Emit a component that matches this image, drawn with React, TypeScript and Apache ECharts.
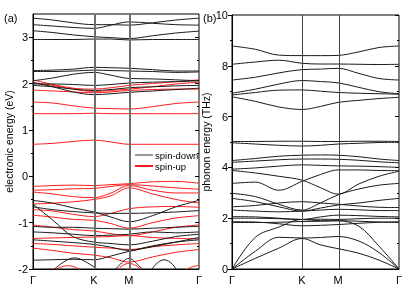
import React, { useEffect, useRef } from 'react';
import * as echarts from 'echarts';

// ---- k-path positions (fraction of path) ----
const KPATH_A = [0, 0.12, 0.24, 0.367, 0.47, 0.578, 0.72, 0.86, 1];
const KPATH_B = [0, 0.14, 0.28, 0.419, 0.53, 0.635, 0.76, 0.88, 1];
const KTICKS_A = [0, 0.367, 0.578, 1];
const KTICKS_B = [0, 0.419, 0.635, 1];
const KLABELS = ['Γ', 'K', 'M', 'Γ'];
const E_TICKS = [-2, -1, 0, 1, 2, 3];

// ---- (a) electronic bands, spin-down (black), values at KPATH_A ----
const spinDownBands: number[][] = [
  [3.41, 3.37, 3.31, 3.27, 3.27, 3.26, 3.31, 3.37, 3.41],
  [3.27, 3.24, 3.21, 3.19, 3.26, 3.33, 3.3, 3.27, 3.26],
  [3.14, 3.1, 3.05, 3.01, 2.99, 2.97, 3.03, 3.09, 3.13],
  [2.95, 2.95, 2.95, 2.96, 2.96, 2.94, 2.95, 2.95, 2.95],
  [2.28, 2.29, 2.31, 2.35, 2.34, 2.33, 2.3, 2.27, 2.27],
  [2.26, 2.26, 2.27, 2.29, 2.28, 2.27, 2.26, 2.24, 2.25],
  [2.06, 2.12, 2.2, 2.24, 2.18, 2.11, 2.1, 2.08, 2.06],
  [1.99, 1.99, 1.98, 1.96, 1.98, 2.01, 2.03, 2.04, 2.06],
  [1.96, 1.93, 1.88, 1.85, 1.87, 1.91, 1.93, 1.95, 1.96],
  [2.02, 1.93, 1.82, 1.76, 1.78, 1.81, 1.84, 1.87, 1.9],
  [-0.52, -0.58, -0.68, -0.77, -0.88, -0.98, -0.85, -0.66, -0.52],
  [-0.66, -0.72, -0.76, -0.79, -0.8, -0.8, -0.79, -0.77, -0.74],
  [-0.6, -0.95, -1.3, -1.42, -1.45, -1.48, -1.4, -1.3, -1.25],
  [-1.08, -1.1, -1.1, -1.12, -1.13, -1.14, -1.12, -1.1, -1.08],
  [-1.2, -1.22, -1.25, -1.28, -1.27, -1.25, -1.2, -1.22, -1.2],
  [-1.37, -1.4, -1.43, -1.47, -1.53, -1.6, -1.5, -1.42, -1.37],
  [-1.81, -1.8, -1.79, -1.8, -1.72, -1.62, -1.52, -1.42, -1.32],
];
// extra spin-down arcs near the bottom: [k, E] pairs
const spinDownArcs: number[][][] = [
  [[0.1, -2.1], [0.18, -1.86], [0.25, -1.76], [0.32, -1.85], [0.4, -2.05], [0.45, -2.25]],
  [[0.45, -2.2], [0.52, -1.92], [0.578, -1.77], [0.63, -1.9], [0.68, -2.1]],
  [[0.68, -2.2], [0.74, -1.9], [0.79, -1.8], [0.84, -1.9], [0.9, -2.2]],
];

// ---- (a) electronic bands, spin-up (red), values at KPATH_A ----
const spinUpBands: number[][] = [
  [2.08, 1.98, 1.9, 1.88, 1.91, 1.96, 2.0, 2.04, 2.08],
  [2.02, 1.96, 1.88, 1.83, 1.85, 1.88, 1.93, 1.99, 2.03],
  [1.86, 1.84, 1.82, 1.8, 1.82, 1.85, 1.87, 1.88, 1.88],
  [1.6, 1.58, 1.52, 1.47, 1.46, 1.45, 1.5, 1.57, 1.6],
  [1.35, 1.35, 1.35, 1.36, 1.35, 1.35, 1.35, 1.35, 1.35],
  [0.69, 0.71, 0.75, 0.78, 0.74, 0.69, 0.69, 0.69, 0.69],
  [-0.22, -0.2, -0.19, -0.2, -0.18, -0.16, -0.12, -0.11, -0.15],
  [-0.3, -0.29, -0.27, -0.26, -0.22, -0.18, -0.21, -0.25, -0.28],
  [-0.34, -0.38, -0.44, -0.46, -0.36, -0.2, -0.3, -0.36, -0.36],
  [-0.6, -0.58, -0.55, -0.5, -0.42, -0.25, -0.38, -0.5, -0.58],
  [-0.72, -0.75, -0.82, -0.87, -0.8, -0.7, -0.66, -0.65, -0.67],
  [-0.84, -0.88, -0.93, -0.95, -1.02, -1.12, -1.0, -0.9, -0.85],
  [-1.05, -1.1, -1.15, -1.18, -1.24, -1.28, -1.2, -1.1, -1.05],
  [-1.34, -1.33, -1.32, -1.31, -1.3, -1.28, -1.32, -1.34, -1.35],
  [-1.45, -1.47, -1.5, -1.53, -1.55, -1.58, -1.52, -1.48, -1.45],
  [-1.55, -1.6, -1.66, -1.7, -1.76, -1.85, -1.74, -1.64, -1.58],
];
const spinUpArcs: number[][][] = [
  [[0.1, -2.1], [0.16, -1.97], [0.21, -1.93], [0.26, -1.97], [0.31, -2.1]],
  [[0.47, -2.2], [0.53, -1.95], [0.578, -1.88], [0.63, -1.95], [0.7, -2.2]],
  [[0.5, -2.3], [0.578, -2.0], [0.66, -2.3]],
  [[0.86, -2.2], [0.94, -1.98], [1, -1.92]],
];

// ---- (b) phonon bands (THz), values at KPATH_B ----
const phononBands: number[][] = [
  [8.78, 8.65, 8.42, 8.4, 8.4, 8.41, 8.55, 8.72, 8.78],
  [8.06, 8.15, 8.22, 8.1, 8.07, 8.07, 8.06, 8.05, 8.06],
  [7.44, 7.55, 7.72, 7.85, 7.87, 7.9, 7.7, 7.5, 7.44],
  [6.92, 7.08, 7.28, 7.42, 7.38, 7.33, 7.15, 6.98, 6.9],
  [6.85, 6.95, 7.04, 7.05, 7.0, 6.95, 6.92, 6.9, 6.88],
  [6.78, 6.6, 6.38, 6.28, 6.4, 6.56, 6.64, 6.71, 6.76],
  [5.02, 5.02, 5.03, 5.03, 5.02, 5.02, 5.03, 5.03, 5.02],
  [4.97, 4.92, 4.87, 4.84, 4.87, 4.92, 4.95, 4.98, 4.99],
  [4.27, 4.35, 4.44, 4.48, 4.49, 4.48, 4.42, 4.33, 4.27],
  [4.2, 4.25, 4.3, 4.33, 4.33, 4.32, 4.28, 4.22, 4.18],
  [3.93, 3.98, 4.05, 4.1, 4.08, 4.06, 4.05, 4.03, 4.0],
  [3.88, 3.78, 3.65, 3.5, 3.2, 2.95, 3.35, 3.65, 3.85],
  [3.37, 3.42, 3.1, 3.45, 3.72, 3.9, 3.9, 3.88, 3.87],
  [2.98, 2.85, 2.55, 2.32, 2.6, 2.92, 3.15, 3.3, 3.37],
  [2.78, 2.65, 2.45, 2.28, 2.4, 2.52, 2.6, 2.7, 2.78],
  [2.45, 2.5, 2.6, 2.65, 2.6, 2.55, 2.48, 2.43, 2.42],
  [2.32, 2.28, 2.25, 2.28, 2.32, 2.35, 2.33, 2.3, 2.3],
  [2.06, 2.05, 2.0, 1.95, 2.05, 2.12, 2.1, 2.07, 2.05],
  [2.0, 2.0, 1.98, 1.95, 1.96, 1.95, 1.98, 2.0, 2.0],
  [1.86, 1.85, 1.78, 1.7, 1.72, 1.75, 1.8, 1.84, 1.86],
  [1.83, 1.83, 1.84, 1.87, 1.88, 1.9, 1.88, 1.85, 1.83],
  [0, 1.25, 1.65, 1.95, 1.9, 1.9, 1.68, 0.9, 0],
  [0, 0.7, 1.25, 1.22, 1.24, 1.28, 1.1, 0.65, 0],
  [0, 0.42, 0.82, 1.2, 0.95, 0.8, 0.62, 0.35, 0],
];

const FONT = '"Liberation Sans", Arial, sans-serif';

function pts(xs: number[], ys: number[]): number[][] {
  return xs.map((x, i) => [x, ys[i]]);
}

function bandSeries(name: string, data: number[][], color: string, g: number, width = 1): any {
  return {
    type: 'line',
    name,
    xAxisIndex: g,
    yAxisIndex: g * 2,
    data,
    symbol: 'none',
    showSymbol: false,
    smooth: 0.35,
    silent: true,
    lineStyle: { color, width },
    itemStyle: { color },
    emphasis: { disabled: true },
  };
}

function labelFor(ticks: number[]) {
  return (v: number) => {
    let best = 0;
    ticks.forEach((t, i) => {
      if (Math.abs(t - v) < Math.abs(ticks[best] - v)) best = i;
    });
    return KLABELS[best];
  };
}

export default function App() {
  const ref = useRef<HTMLDivElement>(null);
  useEffect(() => {
    if (!ref.current) return;
    const chart = echarts.init(ref.current, undefined, { renderer: 'svg' });
    const series: any[] = [];
    const vlineA = {
      type: 'line', xAxisIndex: 0, yAxisIndex: 0, data: [], silent: true,
      markLine: {
        symbol: ['none', 'none'], silent: true, label: { show: false },
        lineStyle: { color: '#6e6e6e', width: 2, type: 'solid' },
        data: [{ xAxis: KTICKS_A[1] }, { xAxis: KTICKS_A[2] }],
      },
    };
    const vlineB = {
      type: 'line', xAxisIndex: 1, yAxisIndex: 2, data: [], silent: true,
      markLine: {
        symbol: ['none', 'none'], silent: true, label: { show: false },
        lineStyle: { color: '#444', width: 1, type: 'solid' },
        data: [{ xAxis: KTICKS_B[1] }, { xAxis: KTICKS_B[2] }],
      },
    };
    series.push(vlineA, vlineB);
    spinUpBands.forEach((b) => series.push(bandSeries('spin-up', pts(KPATH_A, b), '#ff1a1a', 0)));
    spinUpArcs.forEach((a) => series.push(bandSeries('spin-up', a, '#ff1a1a', 0)));
    spinDownBands.forEach((b) => series.push(bandSeries('spin-down', pts(KPATH_A, b), '#1a1a1a', 0)));
    spinDownArcs.forEach((a) => series.push(bandSeries('spin-down', a, '#1a1a1a', 0)));
    phononBands.forEach((b) => series.push(bandSeries('phonon', pts(KPATH_B, b), '#1a1a1a', 1)));

    const xAxisCommon = (g: number, ticks: number[]) => ({
      type: 'value', gridIndex: g, min: 0, max: 1,
      axisLine: { show: true, onZero: false, lineStyle: { color: '#000', width: 1 } },
      axisTick: { show: false },
      splitLine: { show: false },
      axisLabel: {
        customValues: ticks, formatter: labelFor(ticks), color: '#000',
        fontSize: 11, fontFamily: FONT, margin: 5,
      },
    });

    chart.setOption({
      animation: false,
      textStyle: { fontFamily: FONT },
      grid: [
        { left: 33, top: 14, width: 166, height: 255, show: true, borderColor: '#000', borderWidth: 1 },
        { left: 232, top: 15, width: 167, height: 254, show: true, borderColor: '#000', borderWidth: 1 },
      ],
      xAxis: [xAxisCommon(0, KTICKS_A), xAxisCommon(1, KTICKS_B)],
      yAxis: [
        {
          type: 'value', gridIndex: 0, position: 'left', min: -2, max: 3.5, interval: 1,
          axisLine: { show: true, onZero: false, lineStyle: { color: '#000' } },
          axisTick: { show: true, inside: false, length: 4, customValues: E_TICKS, lineStyle: { color: '#000' } },
          minorTick: { show: true, splitNumber: 2, length: 2, lineStyle: { color: '#000' } },
          splitLine: { show: false },
          axisLabel: { customValues: E_TICKS, color: '#000', fontSize: 11, margin: 5, fontFamily: FONT },
          name: 'electronic energy (eV)', nameLocation: 'middle', nameGap: 17,
          nameTextStyle: { color: '#000', fontSize: 10.5, fontFamily: FONT },
        },
        {
          type: 'value', gridIndex: 0, position: 'right', min: -2, max: 3.5, interval: 1,
          axisLine: { show: false, onZero: false },
          axisTick: { show: true, inside: true, length: 4, customValues: E_TICKS, lineStyle: { color: '#000' } },
          minorTick: { show: true, splitNumber: 2, length: 2, lineStyle: { color: '#000' } },
          splitLine: { show: false },
          axisLabel: { show: false },
        },
        {
          type: 'value', gridIndex: 1, position: 'left', min: 0, max: 10, interval: 2,
          axisLine: { show: true, onZero: false, lineStyle: { color: '#000' } },
          axisTick: { show: true, inside: false, length: 4, lineStyle: { color: '#000' } },
          minorTick: { show: true, splitNumber: 2, length: 2, lineStyle: { color: '#000' } },
          splitLine: { show: false },
          axisLabel: { color: '#000', fontSize: 11, margin: 4, fontFamily: FONT },
          name: 'phonon energy (THz)', nameLocation: 'middle', nameGap: 15,
          nameTextStyle: { color: '#000', fontSize: 10.5, fontFamily: FONT },
        },
        {
          type: 'value', gridIndex: 1, position: 'right', min: 0, max: 10, interval: 2,
          axisLine: { show: false, onZero: false },
          axisTick: { show: true, inside: true, length: 4, lineStyle: { color: '#000' } },
          minorTick: { show: true, splitNumber: 2, length: 2, lineStyle: { color: '#000' } },
          splitLine: { show: false },
          axisLabel: { show: false },
        },
      ],
      legend: {
        orient: 'vertical', left: 130, top: 145, itemWidth: 18, itemHeight: 2, itemGap: 1,
        textStyle: { fontSize: 9.5, color: '#000', fontFamily: FONT, padding: [0, 0, 0, -3] },
        selectedMode: false,
        data: [
          { name: 'spin-down', icon: 'rect', itemStyle: { color: '#9a9a9a' } },
          { name: 'spin-up', icon: 'rect', itemStyle: { color: '#ff1a1a' } },
        ],
      },
      graphic: [
        { type: 'text', left: 4, top: 12, style: { text: '(a)', fontSize: 11, fontFamily: FONT, fill: '#000' } },
        { type: 'text', left: 203, top: 12, style: { text: '(b)', fontSize: 11, fontFamily: FONT, fill: '#000' } },
      ],
      series,
    });
    return () => chart.dispose();
  }, []);
  return <div ref={ref} style={{ position: 'fixed', left: 0, top: 0, width: 415, height: 290 }} />;
}
